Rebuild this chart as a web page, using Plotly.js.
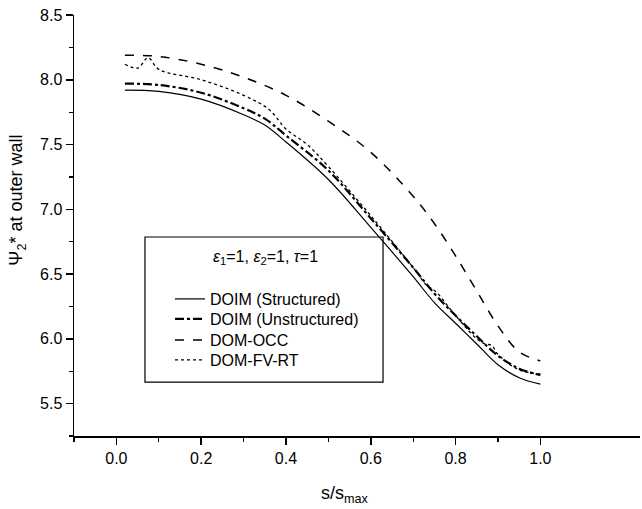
<!DOCTYPE html>
<html>
<head>
<meta charset="utf-8">
<script src="https://cdn.plot.ly/plotly-3.0.1.min.js"></script>
<style>html,body{margin:0;padding:0;background:#fff;}#chart{width:642px;height:509px;}</style>
</head>
<body>
<div id="chart"></div>
<script>
// s/s_max positions and values
const xStruct = [0.02, 0.1, 0.2, 0.3, 0.35, 0.4, 0.5, 0.6, 0.7, 0.75, 0.8, 0.85, 0.9, 0.95, 1.0];
const yStruct = [7.92, 7.91, 7.85, 7.73, 7.65, 7.52, 7.23, 6.86, 6.48, 6.28, 6.12, 5.96, 5.80, 5.70, 5.65];

const xUnstr = [0.02, 0.1, 0.2, 0.3, 0.35, 0.4, 0.5, 0.6, 0.7, 0.75, 0.8, 0.85, 0.9, 0.95, 1.0];
const yUnstr = [7.97, 7.96, 7.90, 7.78, 7.70, 7.57, 7.30, 6.93, 6.55, 6.35, 6.18, 6.02, 5.87, 5.77, 5.72];

const xOCC = [0.02, 0.1, 0.2, 0.3, 0.4, 0.5, 0.6, 0.7, 0.75, 0.8, 0.85, 0.9, 0.95, 1.0];
const yOCC = [8.19, 8.18, 8.12, 8.02, 7.88, 7.68, 7.44, 7.10, 6.89, 6.64, 6.37, 6.10, 5.90, 5.83];

const xFV = [0.02, 0.05, 0.075, 0.1, 0.2, 0.3, 0.36, 0.4, 0.45, 0.5, 0.6, 0.7, 0.73, 0.755, 0.78, 0.8, 0.85, 0.87, 0.885, 0.9, 0.95, 1.0];
const yFV = [8.12, 8.09, 8.17, 8.08, 8.00, 7.88, 7.77, 7.62, 7.50, 7.33, 6.95, 6.55, 6.42, 6.36, 6.26, 6.18, 6.00, 5.96, 5.95, 5.88, 5.76, 5.73];

const names = ['DOIM (Structured)', 'DOIM (Unstructured)', 'DOM-OCC', 'DOM-FV-RT'];
const legendHeader = '<i>ε</i><sub>1</sub>=1, <i>ε</i><sub>2</sub>=1, <i>τ</i>=1';
const xTitle = 's/s<sub>max</sub>';
const yTitle = 'Ψ<sub>2</sub>* at outer wall';
const xTicks = [0, 0.2, 0.4, 0.6, 0.8, 1.0];
const xMinor = [-0.1, 0.1, 0.3, 0.5, 0.7, 0.9];
const yTicks = [5.5, 6.0, 6.5, 7.0, 7.5, 8.0, 8.5];
const yMinor = [5.25, 5.75, 6.25, 6.75, 7.25, 7.75, 8.25];

const FONT = 'Liberation Sans, Arial, sans-serif';

const traces = [
  {x: xStruct, y: yStruct, name: names[0], mode: 'lines', legend: 'legend', line: {color: '#000', width: 1.2, dash: 'solid', shape: 'spline'}},
  {x: xUnstr, y: yUnstr, name: names[1], mode: 'lines', legend: 'legend2', line: {color: '#000', width: 2.2, dash: 'dashdot', shape: 'spline'}},
  {x: xOCC, y: yOCC, name: names[2], mode: 'lines', legend: 'legend3', line: {color: '#000', width: 1.5, dash: 'dash', shape: 'spline'}},
  {x: xFV, y: yFV, name: names[3], mode: 'lines', legend: 'legend4', line: {color: '#000', width: 1.3, dash: 'dot', shape: 'spline'}}
];

function leg(yp) {
  return {x: 0.1696, y: yp, xanchor: 'left', yanchor: 'middle',
    bgcolor: 'rgba(0,0,0,0)', borderwidth: 0,
    font: {family: FONT, size: 16, color: '#000'}};
}

const layout = {
  width: 642, height: 509,
  margin: {l: 74, r: 2, t: 15, b: 73},
  paper_bgcolor: '#fff', plot_bgcolor: '#fff',
  font: {family: FONT, color: '#000', size: 16},
  showlegend: true,
  legend: leg(0.3254),
  legend2: leg(0.2779),
  legend3: leg(0.2280),
  legend4: leg(0.1805),
  xaxis: {
    range: [-0.1, 1.235],
    showgrid: false, zeroline: false,
    showline: true, linecolor: '#000', linewidth: 1.5,
    ticks: 'outside', ticklen: 7, tickwidth: 1.5, tickcolor: '#000',
    tickvals: xTicks, tickformat: '.1f',
    minor: {ticks: 'outside', ticklen: 4, tickwidth: 1.2, tickcolor: '#000', tickvals: xMinor},
    tickfont: {family: FONT, size: 16}
  },
  yaxis: {
    range: [5.25, 8.5],
    showgrid: false, zeroline: false,
    showline: true, linecolor: '#000', linewidth: 1.5,
    ticks: 'outside', ticklen: 7, tickwidth: 1.5, tickcolor: '#000',
    tickvals: yTicks, tickformat: '.1f',
    minor: {ticks: 'outside', ticklen: 4, tickwidth: 1.2, tickcolor: '#000', tickvals: yMinor},
    tickfont: {family: FONT, size: 16}
  },
  shapes: [
    {type: 'rect', xref: 'paper', yref: 'paper', x0: 0.1254, x1: 0.546, y0: 0.128, y1: 0.4727,
     line: {color: '#000', width: 1.2}, fillcolor: 'rgba(0,0,0,0)', layer: 'above'}
  ],
  annotations: [
    {text: legendHeader, xref: 'paper', yref: 'paper', x: 0.338, y: 0.425, showarrow: false,
     xanchor: 'center', yanchor: 'middle', font: {family: FONT, size: 16, color: '#000'}},
    {text: yTitle, xref: 'paper', yref: 'paper', x: -0.1, y: 0.56, showarrow: false, textangle: -90,
     xanchor: 'center', yanchor: 'middle', font: {family: FONT, size: 18, color: '#000'}},
    {text: xTitle, xref: 'paper', yref: 'paper', x: 0.478, y: -0.14, showarrow: false,
     xanchor: 'center', yanchor: 'middle', font: {family: FONT, size: 18, color: '#000'}}
  ]
};

Plotly.newPlot('chart', traces, layout, {displayModeBar: false, staticPlot: true});
</script>
</body>
</html>
